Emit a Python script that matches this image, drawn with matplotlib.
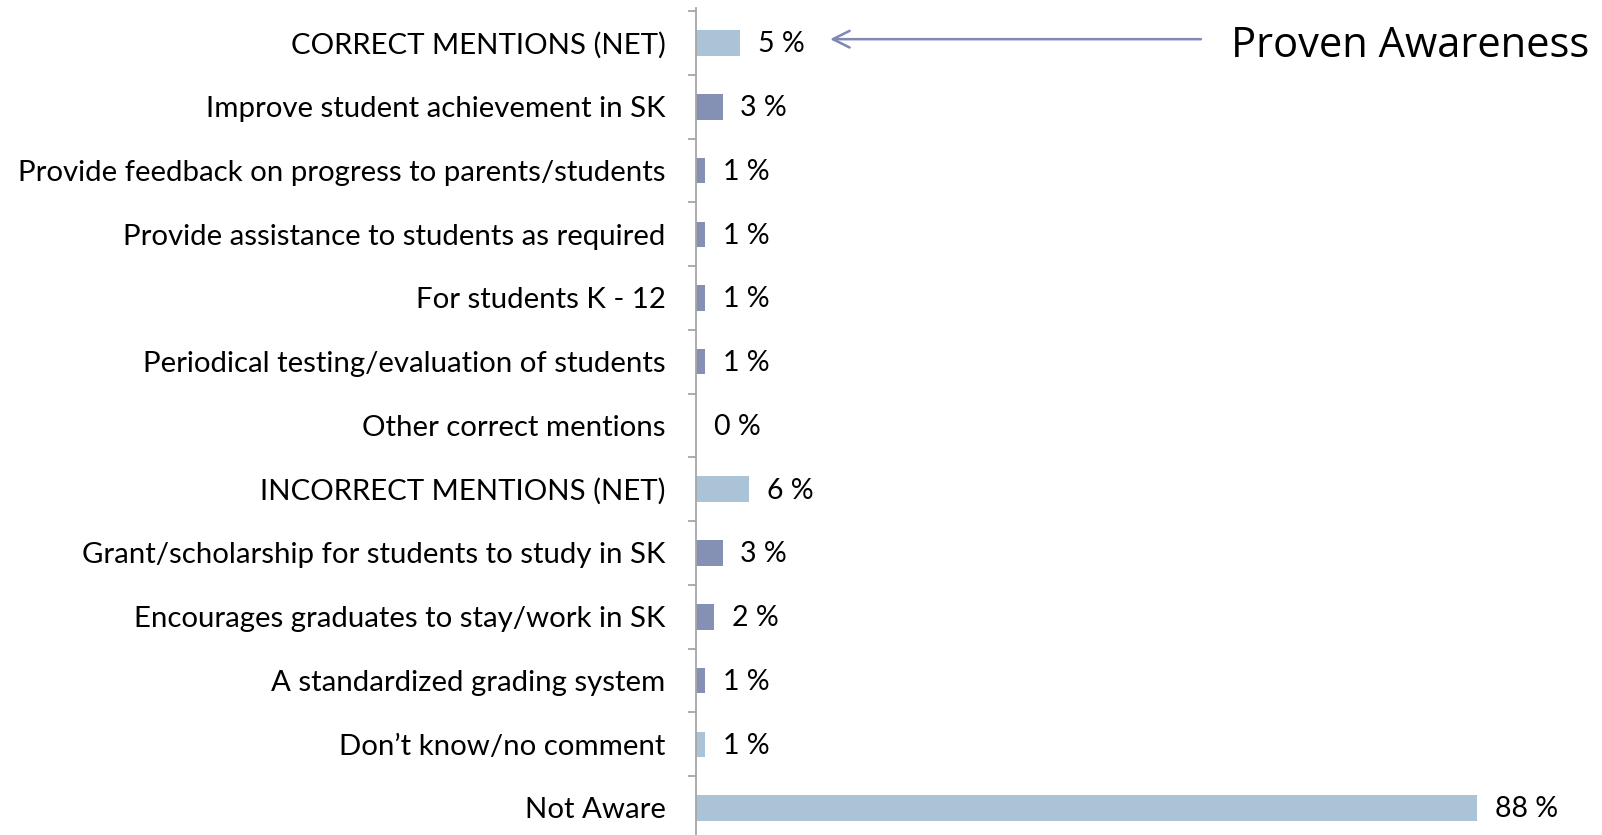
import matplotlib
matplotlib.use("Agg")
import matplotlib.pyplot as plt
import numpy as np

categories = [
    "CORRECT MENTIONS (NET)",
    "Improve student achievement in SK",
    "Provide feedback on progress to parents/students",
    "Provide assistance to students as required",
    "For students K - 12",
    "Periodical testing/evaluation of students",
    "Other correct mentions",
    "INCORRECT MENTIONS (NET)",
    "Grant/scholarship for students to study in SK",
    "Encourages graduates to stay/work in SK",
    "A standardized grading system",
    "Don\u2019t know/no comment",
    "Not Aware",
]
values = [5, 3, 1, 1, 1, 1, 0, 6, 3, 2, 1, 1, 88]
bar_kind = ["net", "sub", "sub", "sub", "sub", "sub", "sub", "net", "sub", "sub", "sub", "net", "net"]
annotation_text = "Proven Awareness"

LIGHT = "#ABC3D7"
DARK = "#8591B4"
colors = [LIGHT if k == "net" else DARK for k in bar_kind]

W, H = 1602, 835
fig = plt.figure(figsize=(W / 100, H / 100), dpi=100)
ax_left = 696 / W
ax = fig.add_axes([ax_left, 0, 1 - ax_left, (H - 8) / H])

y = np.arange(len(categories))
ax.barh(y, values, height=0.4, color=colors, edgecolor="none")

sp = 63.75
ax.set_ylim((H - 43) / sp, -35 / sp)
ax.set_xlim(0, (W - 696) / 8.875)

for s in ["top", "right", "bottom"]:
    ax.spines[s].set_visible(False)
ax.spines["left"].set_color("#A6A6A6")
ax.spines["left"].set_linewidth(1.3)
ax.set_xticks([])

ax.set_yticks(y)
ax.set_yticklabels(categories, fontsize=21.2, family="Lato", color="#000000")
ax.tick_params(axis="y", which="major", length=0, pad=22)
ax.set_yticks(np.arange(-0.5, len(categories) - 0.5, 1.0), minor=True)
ax.tick_params(axis="y", which="minor", length=6, color="#A6A6A6", width=1.3, direction="out")

for yi, v in zip(y, values):
    ax.text(v + 2.0, yi + 0.02, f"{v} %", va="center", ha="left", fontsize=20.5, family="Lato", color="#000000")

# Arrow annotation
ax.annotate("", xy=(14.8, 0 - 0.06), xytext=(57.2, 0 - 0.06),
            arrowprops=dict(arrowstyle="->,head_length=1.2,head_width=0.6", color="#7F87B3", lw=1.8))
fig.text(1231 / W, 1 - 46 / H, annotation_text, fontsize=30, family="Open Sans",
         va="center", ha="left", color="#000000")

fig.savefig("out.png", dpi=100)
